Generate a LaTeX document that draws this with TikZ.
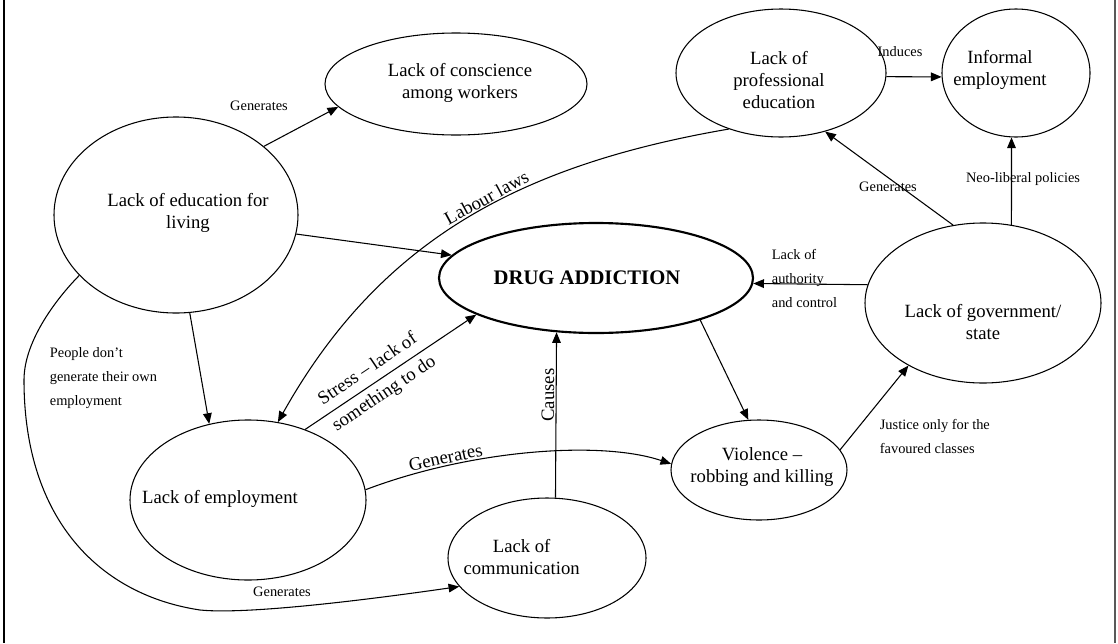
\documentclass[tikz,border=0pt]{standalone}
\usepackage{fontspec}
\setmainfont{Liberation Serif}
\usepackage{tikz}
\usetikzlibrary{arrows.meta,shapes.geometric}

\begin{document}
\begin{tikzpicture}[x=0.75pt, y=-0.75pt, line width=0.8pt, every node/.style={inner sep=1pt}]
    \tikzset{
        oval/.style 2 args={ellipse, draw, line width=0.8pt, minimum width=#1, minimum height=#2, inner sep=0pt},
        txt/.style={font=\fontsize{14}{16.5}\selectfont, align=center},
        big/.style={font=\fontsize{14}{16.5}\selectfont, align=center},
        lbl/.style={font=\fontsize{10.8}{18}\selectfont, align=left},
        arr/.style={-{Triangle[length=8pt, width=6.5pt]}, line width=0.8pt}
    }
    \useasboundingbox (0,0) rectangle (1118,643);
    % page edges
    \draw[line width=1.6pt] (4,0) -- (4,643);
    \draw[line width=1.6pt, black!65] (1115,0) -- (1115,643);

    % causes and effects
    \node[oval={196.5pt}{76.5pt}, label={[txt, xshift=3pt, yshift=1pt]center:Lack of conscience\\among workers}] (consc) at (456,84) {};
    \node[oval={183pt}{147pt}, label={[txt, xshift=9pt, yshift=1.5pt]center:Lack of education for\\living}] (edu) at (176,215) {};
    \node[oval={235.5pt}{82.5pt}, line width=1.6pt, label={[txt, font=\fontsize{15.5}{18}\selectfont\bfseries, xshift=-6.75pt]center:DRUG ADDICTION}] (drug) at (596,278) {};
    \node[oval={157.5pt}{96pt}, label={[txt, xshift=-1.5pt, yshift=-5.5pt]center:Lack of\\professional\\education}] (prof) at (781,73) {};
    \node[oval={111pt}{96pt}, label={[txt, xshift=-12pt, yshift=2.5pt]center:Informal\\employment}] (inf) at (1016,73) {};
    \node[oval={177pt}{120pt}, label={[txt, yshift=-14.5pt]center:Lack of government/\\state}] (gov) at (983,303) {};
    \node[oval={132pt}{75pt}, label={[txt, xshift=2.25pt, yshift=2.5pt]center:Violence --\\robbing and killing}] (viol) at (759,470) {};
    \node[oval={177pt}{120pt}, label={[txt, xshift=-21pt, yshift=0.75pt]center:Lack of employment}] (emp) at (248,500) {};
    \node[oval={148.5pt}{90pt}, label={[txt, xshift=-19pt, yshift=0.75pt]center:Lack of\\communication}] (comm) at (547,558) {};

    % plain labels
    \node[lbl] (l-gen1) at (259,106) {Generates};
    \node[lbl] (l-ind) at (900,52) {Induces};
    \node[lbl] (l-gen2) at (888,187) {Generates};
    \node[lbl] (l-neo) at (1023,179) {Neo-liberal policies};
    \node[lbl, anchor=west] (l-auth) at (770,278) {Lack of\\authority\\and control};
    \node[lbl, anchor=west] (l-people) at (48,378) {People don't\\generate their own\\employment};
    \node[lbl, anchor=west] (l-just) at (878,436) {Justice only for the\\favoured classes};
    \node[lbl] (l-gen3) at (282,592) {Generates};

    % links
    \draw[arr] (edu.38) -- (consc.191);
    \draw[arr] (edu.-9) -- (drug.171);
    \draw[arr] (edu.-82) -- (emp.117);
    \draw[arr] (prof.-133) .. controls (520,165) and (380,240) .. (emp.69)
        node[big, sloped, pos=0.44, above] {Labour laws};
    \draw[arr] (emp.51) -- node[big, font=\fontsize{14}{22}\selectfont, sloped, pos=0.415] {Stress -- lack of\\something to do} (drug.197);
    \draw[arr] (comm.82) -- node[big, sloped, pos=0.62, above] {Causes} (drug.-126);
    \draw[arr] (emp.5) .. controls (470,450) and (600,440) .. (viol.176)
        node[big, sloped, pos=0.25, above] {Generates};
    \draw[arr] (drug.-22) -- (viol.102);
    \draw[arr] (viol.14) -- (gov.-140);
    \draw[arr] (gov.111) -- (prof.-53);
    \draw[arr] (gov.70) -- (inf.-94);
    \draw[arr] (prof.-2) -- (inf.183);
    \draw[arr] (gov.171) -- (drug.-2.5);
    \draw[arr] (edu.-148) .. controls (58,297) and (24,340) .. (24,380)
        .. controls (24,520) and (100,595) .. (200,610)
        .. controls (250,615) and (380,598) .. (comm.198);
\end{tikzpicture}
\end{document}
